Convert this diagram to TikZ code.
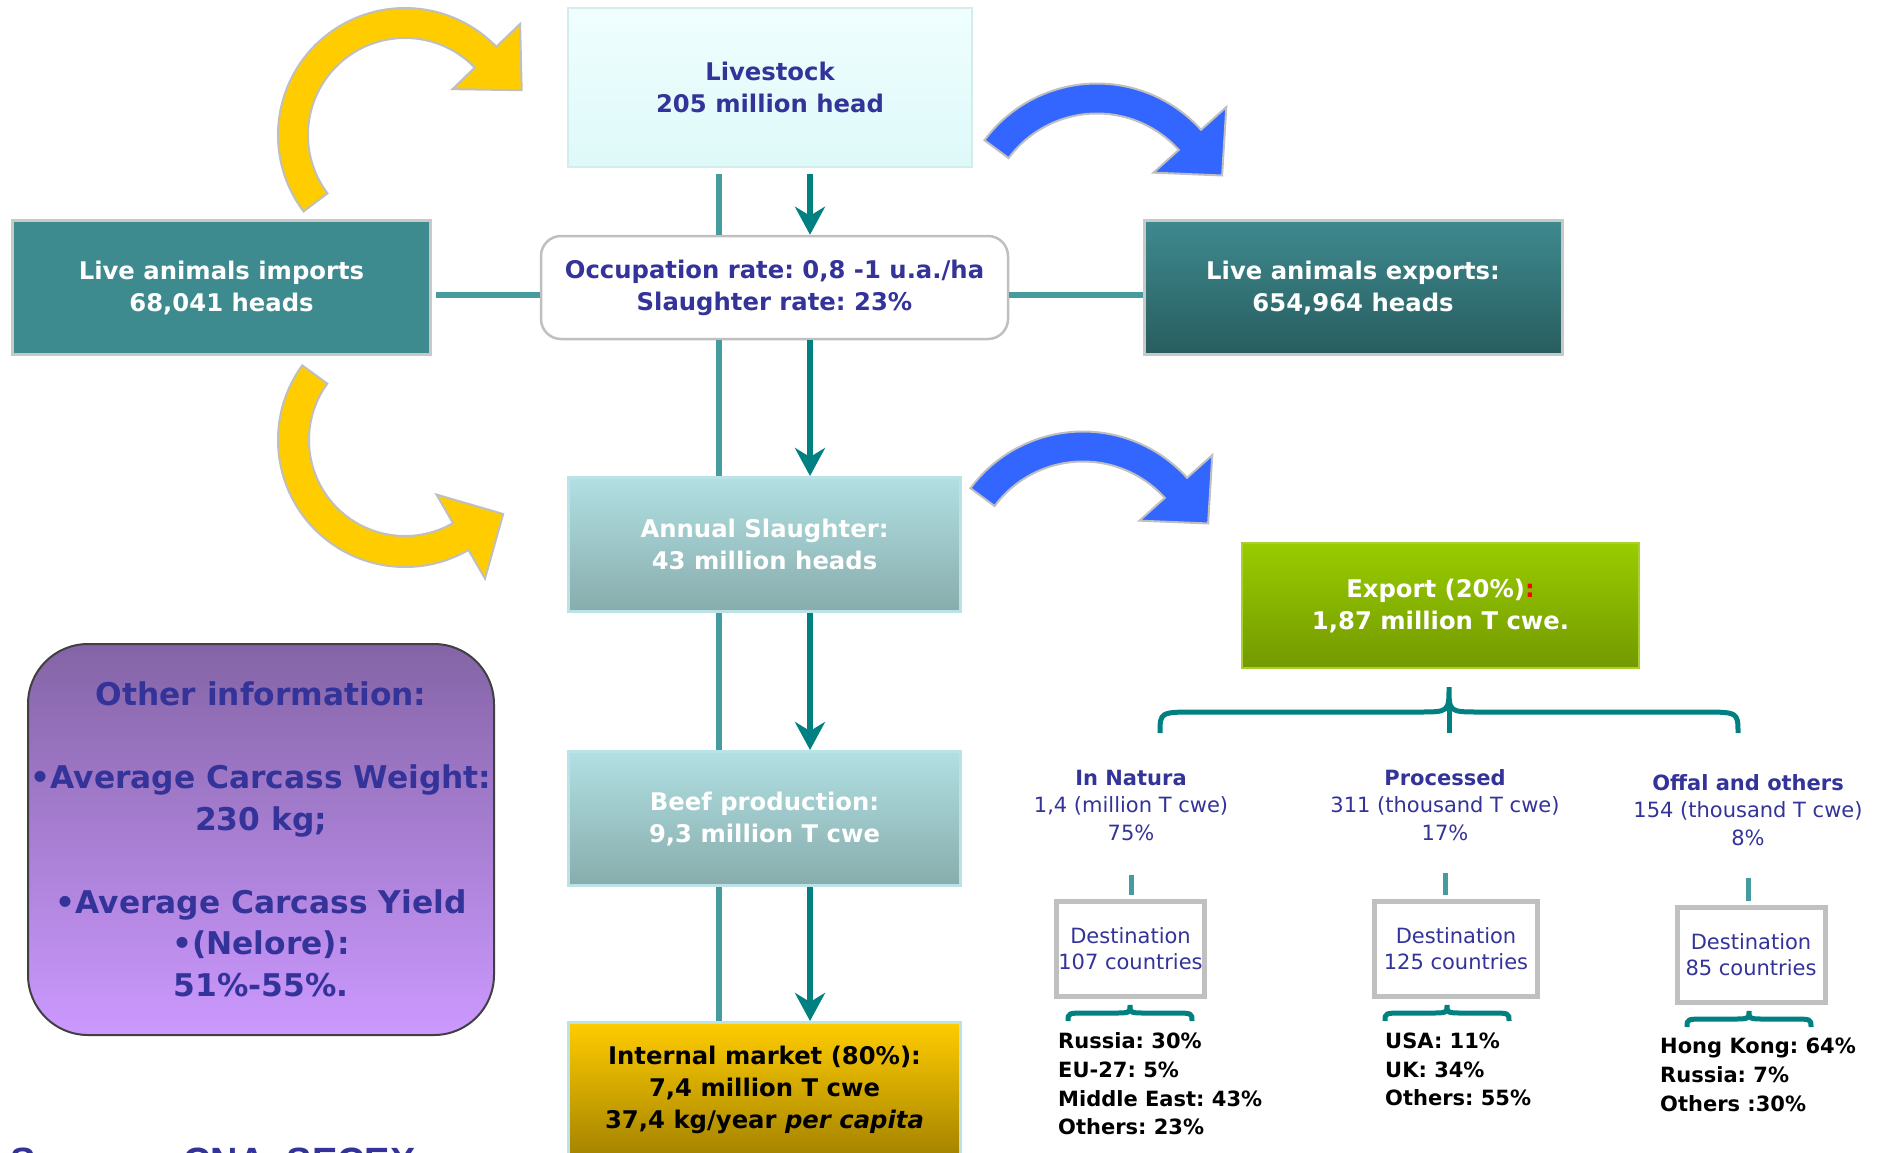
\documentclass[tikz,border=0pt]{standalone}
\usepackage{fontspec}
\setmainfont{DejaVu Sans}
\newfontfamily\sourcefont{Liberation Sans}
\usetikzlibrary{arrows.meta,calc}
\frenchspacing

\definecolor{navy}{HTML}{333399}
\definecolor{tealline}{HTML}{008080}
\definecolor{paleline}{HTML}{469B9E}
\definecolor{livetop}{HTML}{F0FEFE}
\definecolor{livebot}{HTML}{DEF9F9}
\definecolor{liveedge}{HTML}{D3ECEC}
\definecolor{edgegray}{HTML}{C8C8C8}
\definecolor{importfill}{HTML}{3E8B8F}
\definecolor{exporttop}{HTML}{3E8A8F}
\definecolor{exportbot}{HTML}{285D5F}
\definecolor{slaughtertop}{HTML}{B1E0E3}
\definecolor{slaughterbot}{HTML}{88ACAC}
\definecolor{slaughteredge}{HTML}{B9E3E6}
\definecolor{greentop}{HTML}{99CC00}
\definecolor{greenbot}{HTML}{739900}
\definecolor{greenedge}{HTML}{A8D12F}
\definecolor{markettop}{HTML}{FFCC00}
\definecolor{marketbot}{HTML}{A48300}
\definecolor{purpletop}{HTML}{8464A6}
\definecolor{purplebot}{HTML}{CC99FF}
\definecolor{purpleedge}{HTML}{404040}
\definecolor{sunfill}{HTML}{FFCC00}
\definecolor{skyfill}{HTML}{3366FF}
\definecolor{arrowedge}{HTML}{BFBFBF}
\definecolor{destedge}{HTML}{C0C0C0}

\begin{document}
\begin{tikzpicture}[x=1pt,y=-1pt,
  box/.style={inner sep=0pt, align=center, font=\bfseries\fontsize{24.3}{32}\selectfont},
  feed/.style={paleline, line width=6pt},
  flow/.style={tealline, line width=6pt, -{Stealth[length=28pt,width=30pt,inset=9pt]}},
  sun/.style={fill=sunfill, draw=arrowedge, line width=2pt},
  sky/.style={fill=skyfill, draw=arrowedge, line width=2pt},
  curly/.style={tealline, line width=5pt},
  tick/.style={paleline, line width=5pt},
  group/.style={inner sep=0pt, align=center, text=navy, font=\fontsize{21}{27.5}\selectfont},
  dest/.style={draw=destedge, line width=5pt, fill=white, inner sep=0pt, align=center, text=navy,
    font=\fontsize{21}{26}\selectfont, minimum width=148pt, minimum height=95pt},
  share/.style={inner sep=0pt, anchor=west, align=left, font=\bfseries\fontsize{21}{28.7}\selectfont}]

\useasboundingbox (0,0) rectangle (1877,1152);
\clip (0,0) rectangle (1877,1152);

\node[box, text=navy, top color=livetop, bottom color=livebot, draw=liveedge, line width=2pt,
  minimum width=404pt, minimum height=159pt] (livestock) at (770,87.5) {Livestock\\205 million head};
\node[box, text=navy, fill=white, draw=arrowedge, line width=2.5pt, rounded corners=20pt,
  minimum width=467pt, minimum height=103pt] (occup) at (774.5,287.5) {Occupation rate: 0,8 -1 u.a./ha\\Slaughter rate: 23\%};
\node[box, text=white, fill=importfill, draw=edgegray, line width=3pt,
  minimum width=418pt, minimum height=134pt] (imports) at (221.5,287.5) {Live animals imports\\68,041 heads};
\node[box, text=white, top color=exporttop, bottom color=exportbot, draw=edgegray, line width=3pt,
  minimum width=418pt, minimum height=134pt] (exports) at (1353,287.5) {Live animals exports:\\654,964 heads};
\node[box, text=white, top color=slaughtertop, bottom color=slaughterbot, draw=slaughteredge, line width=3pt,
  minimum width=392pt, minimum height=134pt] (slaughter) at (764.5,544.5) {Annual Slaughter:\\43 million heads};
\node[box, text=white, top color=slaughtertop, bottom color=slaughterbot, draw=slaughteredge, line width=3pt,
  minimum width=392pt, minimum height=134pt] (beef) at (764.5,818.5) {Beef production:\\9,3 million T cwe};
\node[box, text=black, top color=markettop, bottom color=marketbot, draw=slaughteredge, line width=3pt,
  minimum width=392pt, minimum height=134pt] (market) at (764.5,1089.5) {Internal market (80\%):\\7,4 million T cwe\\37,4 kg/year \textit{per capita}};
\node[box, text=white, top color=greentop, bottom color=greenbot, draw=greenedge, line width=2pt,
  minimum width=397pt, minimum height=125pt] (export) at (1440.5,605.5) {Export (20\%)\textcolor{red}{:}\\1,87 million T cwe.};
\node[box, text=navy, top color=purpletop, bottom color=purplebot, draw=purpleedge, line width=2pt,
  rounded corners=60pt, minimum width=466pt, minimum height=391pt,
  font=\bfseries\fontsize{31.3}{41.5}\selectfont] (info) at (261,839.5)
  {Other information:\\[41.5pt]•Average Carcass Weight:\\230 kg;\\[41.5pt]•Average Carcass Yield\\•(Nelore):\\51\%-55\%.};

\node[group] (natura) at (1131,805) {\textbf{In Natura}\\1,4 (million T cwe)\\75\%};
\node[group] (processed) at (1445,805) {\textbf{Processed}\\311 (thousand T cwe)\\17\%};
\node[group] (offal) at (1748,810) {\textbf{Offal and others}\\154 (thousand T cwe)\\8\%};

\node[dest] (dest1) at (1130.5,949) {Destination\\107 countries};
\node[dest, minimum width=163pt] (dest2) at (1456,949) {Destination\\125 countries};
\node[dest] (dest3) at (1751,955) {Destination\\85 countries};

\node[share] (list1) at (1058,1084) {Russia: 30\%\\EU-27: 5\%\\Middle East: 43\%\\Others: 23\%};
\node[share] (list2) at (1385,1069.5) {USA: 11\%\\UK: 34\%\\Others: 55\%};
\node[share] (list3) at (1660,1075) {Hong Kong: 64\%\\Russia: 7\%\\Others :30\%};

\node[anchor=base west, inner sep=0pt, text=navy, font=\sourcefont\bfseries\fontsize{38}{44}\selectfont]
  (source) at (10,1174) {Sources: CNA, SECEX};

\coordinate (lx) at (719,0);
\coordinate (ax) at (810,0);
\path (lx |- livestock.south) edge[feed, shorten <=6pt] (lx |- occup.north)
      (lx |- occup.south) edge[feed] (lx |- slaughter.north)
      (lx |- slaughter.south) edge[feed] (lx |- beef.north)
      (lx |- beef.south) edge[feed] (lx |- market.north);
\path (ax |- livestock.south) edge[flow, shorten <=6pt] (ax |- occup.north)
      (ax |- occup.south) edge[flow] (ax |- slaughter.north)
      (ax |- slaughter.south) edge[flow] (ax |- beef.north)
      (ax |- beef.south) edge[flow] (ax |- market.north);
\path ([yshift=-7.5pt]imports.east) edge[feed, shorten <=4pt] ([yshift=-7.5pt]imports.east -| occup.west)
      ([yshift=-7.5pt]occup.east) edge[feed] ([yshift=-7.5pt]occup.east -| exports.west);

\coordinate (y1) at (405,135);
\coordinate (y2) at (405,440);
\coordinate (b1) at (1097,223.5);
\coordinate (b2) at (1083,571.5);
\filldraw[sun] ($(y1)+(143:127)$) arc[start angle=143, end angle=316, radius=127]
  -- ($(y1)+(316:160)$) -- ($(y1)+(339:125)$) -- ($(y1)+(316:66)$) -- ($(y1)+(316:97)$)
  arc[start angle=316, end angle=143, radius=97] -- cycle;
\filldraw[sun] ($(y2)+(216:127)$) arc[start angle=216, end angle=60, radius=127]
  -- ($(y2)+(60:160)$) -- ($(y2)+(37:123)$) -- ($(y2)+(60:63)$) -- ($(y2)+(60:96)$)
  arc[start angle=60, end angle=216, radius=96] -- cycle;
\filldraw[sky] ($(b1)+(216.5:140)$) arc[start angle=216.5, end angle=318, radius=140]
  -- ($(b1)+(318:174)$) -- ($(b1)+(339:134)$) -- ($(b1)+(318:76)$) -- ($(b1)+(318:110)$)
  arc[start angle=318, end angle=216.5, radius=110] -- cycle;
\filldraw[sky] ($(b2)+(216.5:140)$) arc[start angle=216.5, end angle=318, radius=140]
  -- ($(b2)+(318:174)$) -- ($(b2)+(339:134)$) -- ($(b2)+(318:76)$) -- ($(b2)+(318:110)$)
  arc[start angle=318, end angle=216.5, radius=110] -- cycle;

\draw[curly] (1160,733) .. controls (1160,712) .. (1197,712) -- (1418,712) .. controls (1449,712) .. (1449,687)
  .. controls (1449,712) .. (1480,712) -- (1701,712) .. controls (1738,712) .. (1738,733);
\draw[curly] (1449,703) -- (1449,733);
\draw[curly] (1068,1021) .. controls (1068,1013) .. (1087,1013) -- (1113,1013) .. controls (1130,1013) .. (1130,1005)
  .. controls (1130,1013) .. (1147,1013) -- (1173,1013) .. controls (1192,1013) .. (1192,1021);
\draw[curly] (1385,1021) .. controls (1385,1013) .. (1404,1013) -- (1430,1013) .. controls (1447,1013) .. (1447,1005)
  .. controls (1447,1013) .. (1464,1013) -- (1490,1013) .. controls (1509,1013) .. (1509,1021);
\draw[curly] (1687,1027) .. controls (1687,1019) .. (1706,1019) -- (1732,1019) .. controls (1749,1019) .. (1749,1011)
  .. controls (1749,1019) .. (1766,1019) -- (1792,1019) .. controls (1811,1019) .. (1811,1027);

\path (natura.south) edge[tick, shorten <=34pt, shorten >=4pt] (natura.south |- dest1.north)
      (processed.south) edge[tick, shorten <=32pt, shorten >=4pt] (processed.south |- dest2.north)
      (offal.south) edge[tick, shorten <=32pt, shorten >=4pt] (offal.south |- dest3.north);
\end{tikzpicture}
\end{document}
